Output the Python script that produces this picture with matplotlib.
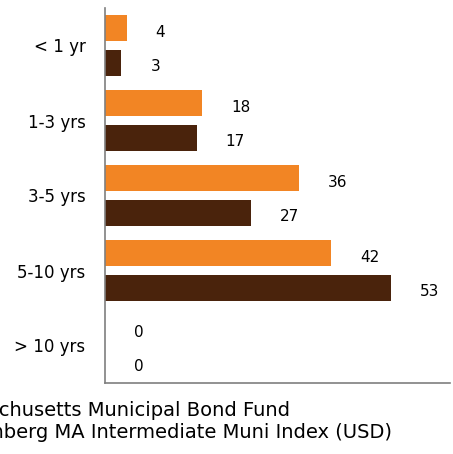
import numpy as np
import matplotlib.pyplot as plt

categories = ['< 1 yr', '1-3 yrs', '3-5 yrs', '5-10 yrs', '> 10 yrs']
fund_vals = [4, 18, 36, 42, 0]
index_vals = [3, 17, 27, 53, 0]
fund_name = 'Massachusetts Municipal Bond Fund'
index_name = 'Bloomberg MA Intermediate Muni Index (USD)'

orange = '#f28524'
brown = '#4a230c'

plt.rcParams['font.family'] = 'DejaVu Sans'

fig = plt.figure(figsize=(4.53, 4.54), dpi=100)
ax = fig.add_axes([105/453, 1-383/454, 345/453, 375/454])

y = np.arange(len(categories))
h = 0.35
off = 0.23
ax.barh(y - off, fund_vals, height=h, color=orange)
ax.barh(y + off, index_vals, height=h, color=brown)

# value labels sit to the right of each bar end
for yi, v in zip(y - off, fund_vals):
    ax.annotate(str(v), (v, yi), xytext=(21, -3), textcoords='offset points',
                ha='left', va='center', fontsize=11)
for yi, v in zip(y + off, index_vals):
    ax.annotate(str(v), (v, yi), xytext=(21, -3), textcoords='offset points',
                ha='left', va='center', fontsize=11)

ax.set_xlim(0, 64)
ax.set_ylim(4.5, -0.5)
ax.set_yticks(y)
ax.set_yticklabels(categories, fontsize=12)
ax.tick_params(axis='y', length=0, pad=14)
ax.set_xticks([])
for s in ['top', 'right']:
    ax.spines[s].set_visible(False)
for s in ['left', 'bottom']:
    ax.spines[s].set_color('#7f7f7f')
    ax.spines[s].set_linewidth(1.2)

# legend text, cut at the left edge like the source image
fig.text(-62/453, 1-410/454, fund_name, fontsize=14, va='center', ha='left')
fig.text(-58/453, 1-432/454, index_name, fontsize=14, va='center', ha='left')

fig.savefig('out.png', dpi=100)
